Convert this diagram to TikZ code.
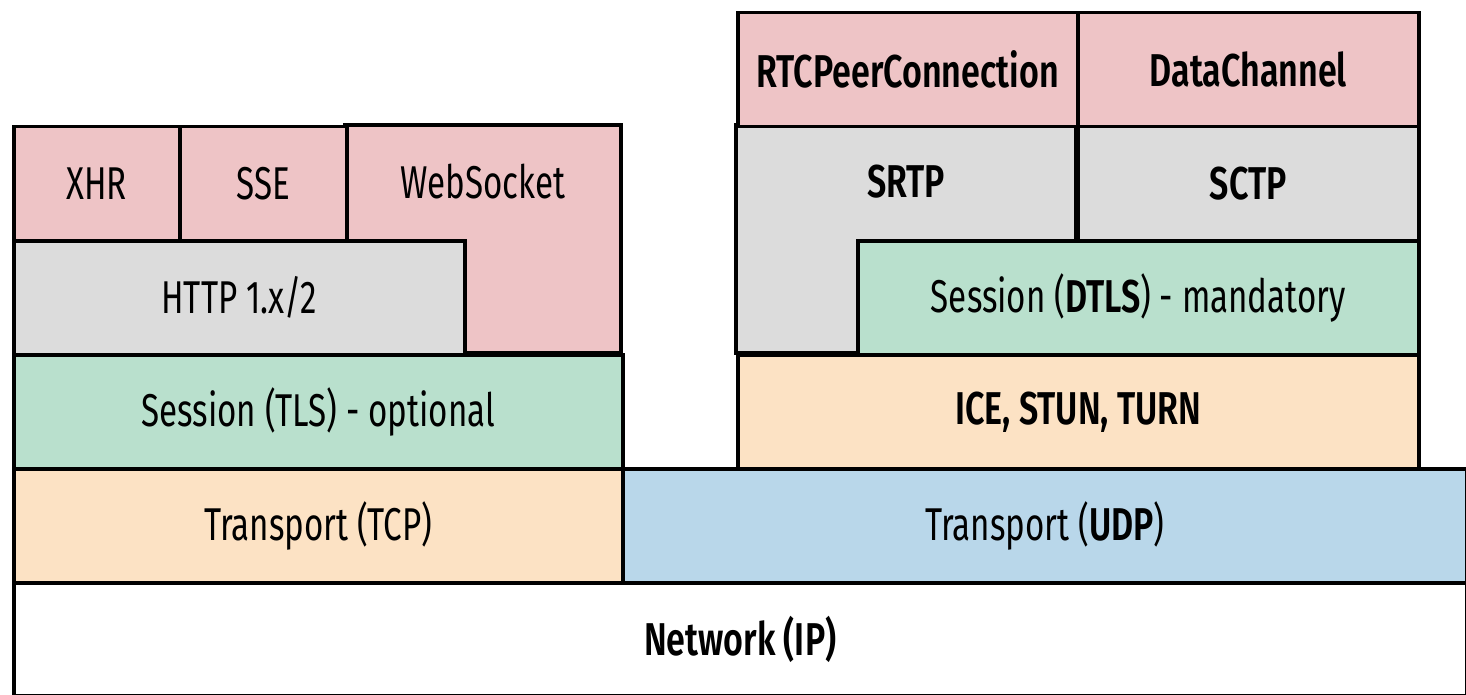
\documentclass[tikz,border=0pt]{standalone}
\usepackage{fontspec}
\setmainfont[FakeStretch=0.72, BoldFont={* SemiBold}, BoldFeatures={FakeStretch=0.74}]{Fira Sans}
\begin{document}
\begin{tikzpicture}[x=1pt,y=-1pt,
  layer/.style={draw=black, line width=3.5pt, rectangle, inner sep=0pt, anchor=north west},
  lbl/.style={font=\fontsize{46}{50}\selectfont, text=black},
  edge/.style={draw=black, line width=3.5pt, line join=miter}]
\definecolor{appPink}{HTML}{EEC4C6}
\definecolor{layGray}{HTML}{DCDCDC}
\definecolor{secGreen}{HTML}{B9E0CD}
\definecolor{netOrange}{HTML}{FCE2C4}
\definecolor{udpBlue}{HTML}{B9D7EA}
\useasboundingbox (0,0) rectangle (1466,695);

% network layer
\node[layer, fill=white, minimum width=1453pt, minimum height=113pt, lbl] (ip) at (12,581) {\textbf{Network (IP)}};

% left stack: HTTP over TCP
\node[layer, fill=netOrange, minimum width=609pt, minimum height=114pt, lbl] (tcp) at (12,467) {Transport (TCP)};
\node[layer, fill=secGreen, minimum width=609pt, minimum height=114pt, lbl] (tls) at (12,353) {Session (TLS) - optional};
\path[edge, fill=appPink] (345,125) rectangle (621,353);
\node[lbl] (ws) at (483,182) {WebSocket};
\node[layer, fill=layGray, minimum width=451pt, minimum height=114pt, lbl] (http) at (12,239) {HTTP 1.x/2};
\node[layer, fill=appPink, minimum width=166pt, minimum height=114pt, lbl] (xhr) at (12,125) {XHR};
\node[layer, fill=appPink, minimum width=167pt, minimum height=114pt, lbl] (sse) at (178,125) {SSE};

% right stack: WebRTC over UDP
\node[layer, fill=udpBlue, minimum width=844pt, minimum height=114pt, lbl] (udp) at (621,467) {Transport (\textbf{UDP})};
\node[layer, fill=netOrange, minimum width=681pt, minimum height=114pt, lbl] (ice) at (736,353) {\textbf{ICE, STUN, TURN}};
\path[edge, fill=layGray] (736,125) rectangle (1076,353);
\node[lbl] (srtp) at (906,182) {\textbf{SRTP}};
\node[layer, fill=secGreen, minimum width=561pt, minimum height=114pt, lbl] (dtls) at (856,239) {Session (\textbf{DTLS}) - mandatory};
\node[layer, fill=layGray, minimum width=341pt, minimum height=114pt, lbl] (sctp) at (1076,125) {\textbf{SCTP}};
\node[layer, fill=appPink, minimum width=340pt, minimum height=114pt, lbl] (rtc) at (736,11) {\textbf{RTCPeerConnection}};
\node[layer, fill=appPink, minimum width=341pt, minimum height=114pt, lbl] (dc) at (1076,11) {\textbf{DataChannel}};
\end{tikzpicture}
\end{document}
